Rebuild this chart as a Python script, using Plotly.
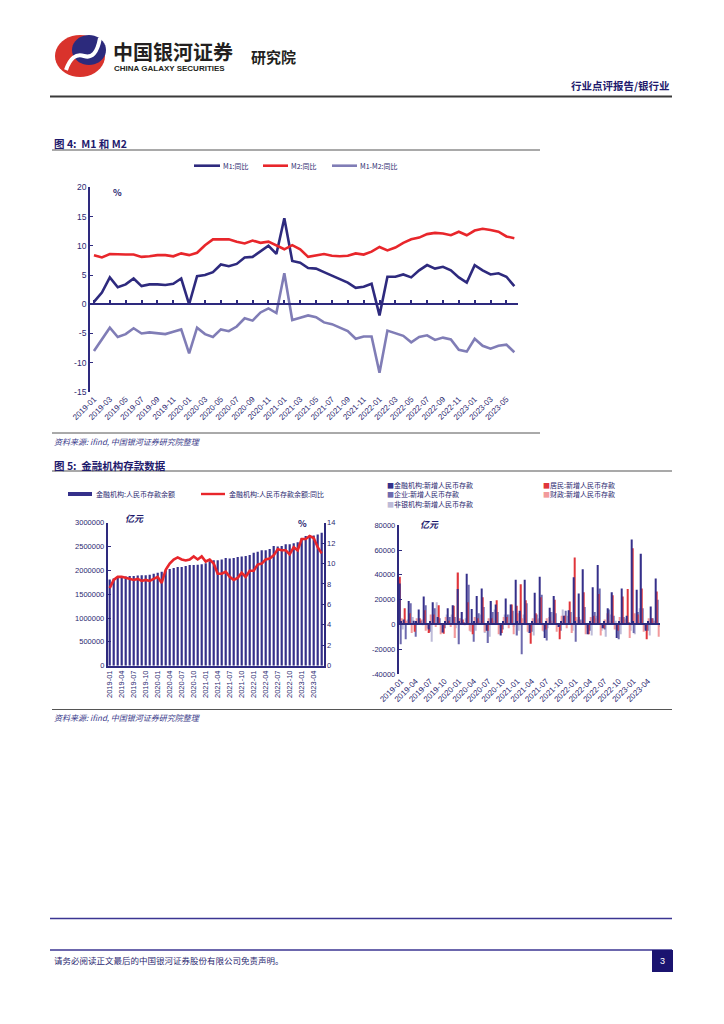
import math
import plotly.graph_objects as go

W, H = 724, 1024
OFF = 8  # page body margin compensation
def fx(x): return (x - OFF) / W
def fy(y): return 1 - (y - OFF) / H

# ---------------- data ----------------
months = [f"{yy}-{mm:02d}" for yy in range(2019, 2024) for mm in range(1, 13)][:54]

m1 = [0.4, 2.0, 4.6, 2.9, 3.4, 4.4, 3.1, 3.4, 3.4, 3.3, 3.5, 4.4,
      0.0, 4.8, 5.0, 5.5, 6.8, 6.5, 6.9, 8.0, 8.1, 9.1, 10.0, 8.6,
      14.7, 7.4, 7.1, 6.2, 6.1, 5.5, 4.9, 4.2, 3.7, 2.8, 3.0, 3.5,
      -1.9, 4.7, 4.7, 5.1, 4.6, 5.8, 6.7, 6.1, 6.4, 5.8, 4.6, 3.7,
      6.7, 5.8, 5.1, 5.3, 4.7, 3.1]
m2 = [8.4, 8.0, 8.6, 8.5, 8.5, 8.5, 8.1, 8.2, 8.4, 8.4, 8.2, 8.7,
      8.4, 8.8, 10.1, 11.1, 11.1, 11.1, 10.7, 10.4, 10.9, 10.5, 10.7, 10.1,
      9.4, 10.1, 9.4, 8.1, 8.3, 8.6, 8.3, 8.2, 8.3, 8.7, 8.5, 9.0,
      9.8, 9.2, 9.7, 10.5, 11.1, 11.4, 12.0, 12.2, 12.1, 11.8, 12.4, 11.8,
      12.6, 12.9, 12.7, 12.4, 11.6, 11.3]
m1_m2 = [-8.0, -6.0, -4.0, -5.6, -5.1, -4.1, -5.0, -4.8, -5.0, -5.1, -4.7, -4.3,
         -8.4, -4.0, -5.1, -5.6, -4.3, -4.6, -3.8, -2.4, -2.8, -1.4, -0.7, -1.5,
         5.3, -2.7, -2.3, -1.9, -2.2, -3.1, -3.4, -4.0, -4.6, -5.9, -5.5, -5.5,
         -11.7, -4.5, -5.0, -5.4, -6.5, -5.6, -5.3, -6.1, -5.7, -6.0, -7.8, -8.1,
         -5.9, -7.1, -7.6, -7.1, -6.9, -8.2]

dep_balance = [1810000, 1830000, 1860000, 1860000, 1870000, 1880000, 1880000, 1890000, 1900000, 1900000, 1910000, 1930000,
               1950000, 1970000, 2000000, 2030000, 2050000, 2070000, 2070000, 2090000, 2110000, 2110000, 2120000, 2130000,
               2150000, 2190000, 2210000, 2210000, 2230000, 2260000, 2250000, 2260000, 2280000, 2290000, 2300000, 2320000,
               2370000, 2390000, 2420000, 2420000, 2450000, 2510000, 2500000, 2510000, 2550000, 2550000, 2570000, 2590000,
               2680000, 2720000, 2730000, 2730000, 2750000, 2790000]
dep_yoy = [7.6, 8.4, 8.7, 8.7, 8.6, 8.5, 8.4, 8.5, 8.3, 8.4, 8.3, 8.5,
           8.7, 8.1, 9.4, 10.0, 10.4, 10.6, 10.4, 10.3, 10.4, 10.7, 10.4, 10.7,
           10.2, 10.4, 10.0, 9.0, 9.0, 9.2, 8.7, 8.4, 8.6, 9.1, 8.7, 9.3,
           9.3, 9.9, 10.0, 10.4, 10.5, 10.8, 11.4, 11.3, 11.3, 10.9, 11.6, 11.3,
           12.4, 12.4, 12.7, 12.5, 11.6, 11.0]

new_total = [33000, 4000, 19000, 3000, 12000, 22500, -4000, 18000, 6000, -6500, 13000, 15500,
             28500, 10000, 41000, 12500, 23000, 29000, -5000, 19000, 16000, -9000, 21000, 16000,
             36000, 11000, 36000, -7000, 25500, 38500, -11000, 13500, 23000, -2000, 7000, 11500,
             38000, 25000, 44500, -8000, 30000, 48000, -3000, 13000, 26000, -11000, 29000, 7000,
             68500, 28000, 57000, -5000, 14500, 37000]
new_house = [38500, 13000, 9000, -6000, 5000, 11500, -7000, 8000, 15500, -7500, 3000, 15000,
             42000, 4000, 18000, -8000, 5000, 22000, -5000, 5000, 19500, -7000, 6000, 16000,
             15000, 32500, 19500, -15500, 9000, 22000, -4000, 6000, 20000, -12000, 7000, 18500,
             54000, 6000, 26000, -8000, 7000, 24500, -3000, 9000, 23500, -5000, 22500, 28500,
             61500, 8000, 29000, -12000, 5000, 26500]
new_corp = [-16000, -12000, 17000, -10000, 3000, 15500, -6000, 13000, 5000, -3000, 6000, 6000,
            -16000, 2000, 32000, -14000, 9000, 14000, -15000, 10000, 10000, -4000, 8000, 11000,
            -9000, -24000, 17000, -6000, 8000, 24000, -13000, 10000, 9000, -5000, 11000, 10000,
            -14000, 4000, 14000, -5000, 10000, 29000, -4000, 12000, 7000, -12000, 6000, 2000,
            -7000, 10000, 13000, -5000, 5000, 20000]
new_fiscal = [5000, 3000, -7000, 5000, 4000, -5000, 8000, -2000, -8000, 6000, -2000, -11000,
              5000, 1000, -5000, 6000, 3000, -6000, 5000, 3000, -8000, 6000, -3000, -8000,
              9000, 5000, -6000, 5000, 4000, -5000, 5000, 3000, -6000, 7000, -3000, -7000,
              6000, 3000, -8000, 6000, 5000, -9000, 4000, 3000, -4000, 6000, 4000, -11000,
              9000, 2000, -6000, 5000, 3000, -10000]
new_nonbank = [-4000, 4000, 6000, 2000, 1000, -3000, -14000, 18000, -7000, 8000, 8000, -3000,
               5000, 5000, -6000, -5000, 8000, -7000, -10000, 12000, -3000, 8000, 8000, -2000,
               -5000, 8000, -7000, -9000, 5000, -6000, -3000, 10000, -2000, 12000, 7000, -5000,
               4000, 4000, -3000, -9000, 7000, -5000, -10000, 8000, 3000, -8000, 5000, -5000,
               -8000, 13000, -4000, -9000, 3000, -2000]

c1_yticks = [20, 15, 10, 5, 0, -5, -10, -15]
c1_yticktext = ["20", "15", "10", "5", "0", "-5", "-10", "-15"]
c2_yticks = [0, 500000, 1000000, 1500000, 2000000, 2500000, 3000000]
c2_y2ticks = [0, 2, 4, 6, 8, 10, 12, 14]
c3_yticks = [80000, 60000, 40000, 20000, 0, -20000, -40000]
c3_yticktext = ["80000", "60000", "40000", "20000", "0", "-20000", "-40000"]

# ---------------- styles ----------------
NAVY = "#2E2A7E"
RED = "#E8262B"
PURP = "#807DB6"
C_TOT = "#35308A"
C_HOUSE = "#E0353B"
C_CORP = "#6E6AAE"
C_FISC = "#F29A9C"
C_NONB = "#BDBBD8"
TXT = "#2B2870"
CJK = "Noto Sans CJK SC"
NUM = "Liberation Sans"

fig = go.Figure()

# Chart 1
fig.add_trace(go.Scatter(x=months, y=m1, mode="lines", line=dict(color=NAVY, width=2.6),
                         xaxis="x", yaxis="y", showlegend=False, hoverinfo="skip"))
fig.add_trace(go.Scatter(x=months, y=m2, mode="lines", line=dict(color=RED, width=2.6),
                         xaxis="x", yaxis="y", showlegend=False, hoverinfo="skip"))
fig.add_trace(go.Scatter(x=months, y=m1_m2, mode="lines", line=dict(color=PURP, width=2.6),
                         xaxis="x2", yaxis="y", showlegend=False, hoverinfo="skip"))

# Chart 2
fig.add_trace(go.Bar(x=months, y=dep_balance, marker=dict(color=C_TOT, line=dict(width=0)),
                     width=0.55, xaxis="x3", yaxis="y3", showlegend=False, hoverinfo="skip"))
fig.add_trace(go.Scatter(x=months, y=dep_yoy, mode="lines", line=dict(color=RED, width=2.6),
                         xaxis="x3", yaxis="y4", showlegend=False, hoverinfo="skip"))

# Chart 3
bw = 0.24
for vals, col, off in [(new_nonbank, C_NONB, 0.26), (new_fiscal, C_FISC, 0.07),
                       (new_corp, C_CORP, -0.12), (new_house, C_HOUSE, -0.31)]:
    fig.add_trace(go.Bar(x=months, y=vals, marker=dict(color=col, line=dict(width=0)),
                         width=bw, offset=off, xaxis="x5", yaxis="y5",
                         showlegend=False, hoverinfo="skip"))
fig.add_trace(go.Bar(x=months, y=new_total, marker=dict(color=C_TOT, line=dict(width=0)),
                     width=bw, offset=-0.50, xaxis="x6", yaxis="y5",
                     showlegend=False, hoverinfo="skip"))

tickfont = dict(family=NUM, size=8, color=TXT)
rng = [-0.5, 53.5]

# domains
d1x = [fx(90), fx(518.3)]; d1y = [fy(392), fy(187.3)]
d2x = [fx(107.7), fx(323.7)]; d2y = [fy(665.7), fy(522.7)]
d3x = [fx(398.7), fx(660)]; d3y = [fy(674), fy(525.3)]

def ypos(d, lo, hi, v):
    return d[0] + (v - lo) / (hi - lo) * (d[1] - d[0])

common = dict(showgrid=False, zeroline=False, automargin=False)

fig.update_layout(
    template="none",
    width=W, height=H, margin=dict(l=0, r=0, t=0, b=0, pad=0, autoexpand=False),
    paper_bgcolor="white", plot_bgcolor="rgba(0,0,0,0)",
    barmode="overlay", showlegend=False,
    xaxis=dict(domain=d1x, type="category", range=rng, anchor="y",
               tickvals=months[::2], tickangle=-45, ticks="", showline=False,
               tickfont=tickfont, **common),
    xaxis2=dict(overlaying="x", type="category", range=rng, anchor="free",
                position=ypos(d1y, -15, 20, 0), tickvals=months[::2],
                showticklabels=False, ticks="inside", ticklen=3, tickwidth=1.5,
                tickcolor=NAVY, showline=True, linecolor=NAVY, linewidth=1.8, **common),
    yaxis=dict(domain=d1y, range=[-15, 20], anchor="x", tickvals=c1_yticks,
               ticktext=c1_yticktext, showline=True, linecolor=NAVY, linewidth=1.8,
               ticks="inside", ticklen=3, tickcolor=NAVY,
               tickfont=dict(family=NUM, size=8.5, color=TXT), **common),
    xaxis3=dict(domain=d2x, type="category", range=rng, anchor="y3",
                tickvals=months[::3], tickangle=-90, ticks="", showline=True,
                linecolor=NAVY, linewidth=1.5,
                tickfont=dict(family=NUM, size=7.5, color=TXT), **common),
    yaxis3=dict(domain=d2y, range=[0, 3000000], anchor="x3", tickvals=c2_yticks,
                tickformat="d", showline=True, linecolor=NAVY, linewidth=1.8,
                ticks="inside", ticklen=3, tickcolor=NAVY,
                tickfont=dict(family=NUM, size=7.5, color=TXT), **common),
    yaxis4=dict(overlaying="y3", side="right", range=[0, 14], anchor="x3",
                tickvals=c2_y2ticks, showline=True, linecolor=NAVY, linewidth=1.8,
                ticks="inside", ticklen=3, tickcolor=NAVY,
                tickfont=dict(family=NUM, size=7.5, color=TXT), **common),
    xaxis5=dict(domain=d3x, type="category", range=rng, anchor="y5",
                tickvals=months[::3], tickangle=-45, ticks="", showline=False,
                tickfont=tickfont, **common),
    xaxis6=dict(overlaying="x5", type="category", range=rng, anchor="free",
                position=ypos(d3y, -40000, 80000, 0), tickvals=months[::3],
                showticklabels=False, ticks="inside", ticklen=3, tickwidth=2,
                tickcolor=NAVY, showline=True, linecolor=NAVY, linewidth=1.8, **common),
    yaxis5=dict(domain=d3y, range=[-40000, 80000], anchor="x5", tickvals=c3_yticks,
                ticktext=c3_yticktext, showline=True, linecolor=NAVY, linewidth=1.8,
                ticks="inside", ticklen=3, tickcolor=NAVY,
                tickfont=dict(family=NUM, size=7.5, color=TXT), **common),
)

shapes = []
ann = []

def line(x0, y0, x1, y1, color, width):
    shapes.append(dict(type="line", xref="paper", yref="paper", x0=fx(x0), y0=fy(y0),
                       x1=fx(x1), y1=fy(y1), line=dict(color=color, width=width)))

def text(x, y, s, size, color=TXT, xa="left", ya="middle", family=CJK, bold=False, italic=False):
    if bold:
        s = f"<b>{s}</b>"
    if italic:
        s = f"<i>{s}</i>"
    ann.append(dict(x=fx(x), y=fy(y), xref="paper", yref="paper", text=s, showarrow=False,
                    xanchor=xa, yanchor=ya, font=dict(family=family, size=size, color=color)))

# ---------- header / logo ----------
def ellipse_path(cx, cy, rx, ry, n=40):
    pts = []
    for i in range(n):
        a = 2 * math.pi * i / n
        pts.append(f"{fx(cx + rx*math.cos(a)):.5f},{fy(cy + ry*math.sin(a)):.5f}")
    return "M " + " L ".join(pts) + " Z"

shapes.append(dict(type="path", xref="paper", yref="paper",
                   path=ellipse_path(80, 56, 25, 21), fillcolor="#D9332C", line=dict(width=0)))
shapes.append(dict(type="path", xref="paper", yref="paper",
                   path=ellipse_path(89, 50, 17, 15), fillcolor="#2C2A7C", line=dict(width=0)))
sp = (f"M {fx(66):.5f},{fy(70):.5f} Q {fx(72):.5f},{fy(52):.5f} {fx(84):.5f},{fy(56):.5f} "
      f"Q {fx(96):.5f},{fy(60):.5f} {fx(100):.5f},{fy(38):.5f}")
shapes.append(dict(type="path", xref="paper", yref="paper", path=sp,
                   line=dict(color="white", width=4)))

text(111, 51, "中国银河证券", 20, color="#231F20", bold=True)
text(112, 68, "CHINA GALAXY SECURITIES", 8, color="#231F20", family=NUM, bold=True)
text(249, 56, "研究院", 15, color="#231F20", bold=True)
text(672, 85, "行业点评报告/银行业", 10.5, color="#1E1A6C", xa="right", bold=True)
line(50, 96.5, 672, 96.5, "#3A3A3A", 2.2)

# ---------- chart 1 ----------
text(52, 143, "图 4:  M1 和 M2", 10.5, color="#1E1A6C", bold=True)
line(52, 150, 540, 150, "#8C8C8C", 1.5)
line(194, 165.7, 220, 165.7, NAVY, 2.6)
text(221, 165.7, "M1:同比", 7, color=TXT)
line(263, 165.7, 288, 165.7, RED, 2.6)
text(289, 165.7, "M2:同比", 7, color=TXT)
line(332, 165.7, 357, 165.7, PURP, 2.6)
text(358, 165.7, "M1-M2:同比", 7, color=TXT)
text(117, 192, "%", 9, color="#1E1A6C", xa="center", bold=True)
line(52, 433, 540, 433, "#555555", 1)
text(52, 441, "资料来源: ifind, 中国银河证券研究院整理", 8, color="#3A3A8A", italic=True)

# ---------- chart 2 / 3 header ----------
text(52, 465, "图 5:  金融机构存款数据", 10.5, color="#1E1A6C", bold=True)
line(52, 471, 672, 471, "#8C8C8C", 1.5)

shapes.append(dict(type="rect", xref="paper", yref="paper", x0=fx(68), x1=fx(92),
                   y0=fy(496), y1=fy(492), fillcolor=C_TOT, line=dict(width=0)))
text(94, 494, "金融机构:人民币存款余额", 7, color=TXT)
line(201, 494, 225, 494, RED, 2.4)
text(227, 494, "金融机构:人民币存款余额:同比", 7, color=TXT)
text(123, 518, "亿元", 9, color="#1E1A6C", bold=True, italic=True)
text(302, 523, "%", 9, color="#1E1A6C", xa="center", bold=True)

leg3 = [(385, 485, C_TOT, "金融机构:新增人民币存款"),
        (541, 485, C_HOUSE, "居民:新增人民币存款"),
        (385, 494.3, C_CORP, "企业:新增人民币存款"),
        (541, 494.3, C_FISC, "财政:新增人民币存款"),
        (385, 503.7, C_NONB, "非银机构:新增人民币存款")]
for x, y, c, s in leg3:
    text(x, y, f"<span style='color:{c}'>■</span>{s}", 7, color=TXT)
text(418, 524, "亿元", 9, color="#1E1A6C", bold=True, italic=True)

line(52, 709.5, 672, 709.5, "#555555", 1)
text(52, 717, "资料来源: ifind, 中国银河证券研究院整理", 8, color="#3A3A8A", italic=True)

# ---------- footer ----------
line(50, 918.5, 672, 918.5, "#3B3592", 1.6)
line(50, 950, 672, 950, "#3B3592", 1.6)
text(52, 960, "请务必阅读正文最后的中国银河证券股份有限公司免责声明。", 8.5, color="#2B2870")
shapes.append(dict(type="rect", xref="paper", yref="paper", x0=fx(652), x1=fx(673),
                   y0=fy(972), y1=fy(950), fillcolor="#1B1470", line=dict(width=0)))
text(662.5, 961, "3", 9, color="white", xa="center", family=NUM)

fig.update_layout(shapes=shapes, annotations=ann)
fig.write_html("out.html")
